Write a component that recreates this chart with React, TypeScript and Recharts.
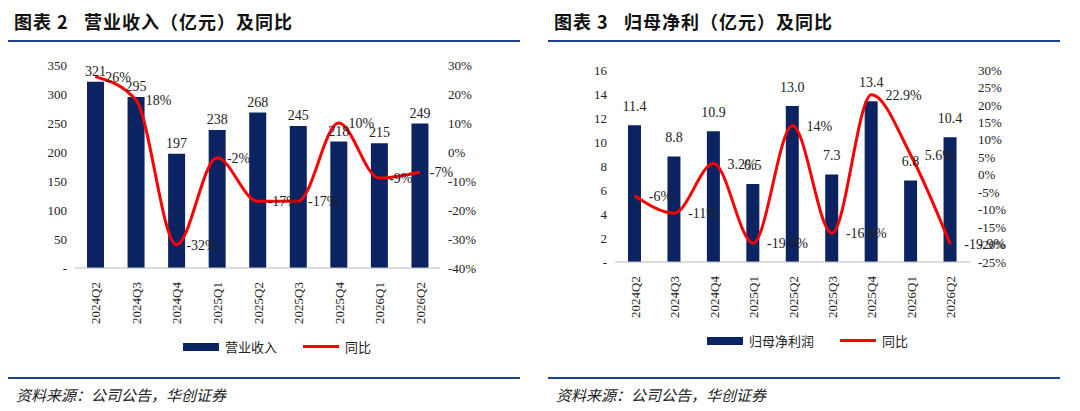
import React from "react";
import { ComposedChart, Bar, Line, XAxis, YAxis, LabelList } from "recharts";

const quarters = ["2024Q2", "2024Q3", "2024Q4", "2025Q1", "2025Q2", "2025Q3", "2025Q4", "2026Q1", "2026Q2"];
const revenue = [321, 295, 197, 238, 268, 245, 218, 215, 249];
const revenueYoy = [26, 18, -32, -2, -17, -17, 10, -9, -7];
const profit = [11.4, 8.8, 10.9, 6.5, 13.0, 7.3, 13.4, 6.8, 10.4];
const profitYoy = [-6, -11, 3.2, -19.6, 14.0, -16.8, 22.9, 5.6, -19.9];

const NAVY = "#0b2461";
const RED = "#ff0000";
const SERIF = "'Liberation Serif', 'Times New Roman', serif";
const CJK = "'Noto Sans CJK SC', sans-serif";

const revData = quarters.map((q, i) => ({ q, v: revenue[i], y: revenueYoy[i] }));
const profData = quarters.map((q, i) => ({ q, v: profit[i], y: profitYoy[i] }));

const tickStyle = { fontSize: 13, fontFamily: SERIF, fill: "#222" };

function XTick(props: any) {
  const { x, y, payload } = props;
  const yy = y + 6;
  return (
    <text x={x} y={yy} transform={`rotate(-90 ${x} ${yy})`} textAnchor="end" dy={5} style={tickStyle}>
      {payload.value}
    </text>
  );
}

function Title({ left, text }: { left: number; text: string }) {
  return (
    <div style={{ position: "absolute", left, top: 0, width: 512, height: 40, borderBottom: "2px solid #1f3f8f" }}>
      <div style={{ position: "absolute", left: 6, top: 8, fontFamily: CJK, fontWeight: 700, fontSize: 18, color: "#111", letterSpacing: 1, whiteSpace: "pre" }}>
        {text}
      </div>
    </div>
  );
}

function Footer({ left }: { left: number }) {
  return (
    <div style={{ position: "absolute", left, top: 377, width: 512, borderTop: "2px solid #1f3f8f" }}>
      <div style={{ position: "absolute", left: 8, top: 5, fontFamily: CJK, fontStyle: "italic", fontSize: 15, color: "#222" }}>
        资料来源：公司公告，华创证券
      </div>
    </div>
  );
}

function LegendBox({ left, top, name }: { left: number; top: number; name: string }) {
  return (
    <div style={{ position: "absolute", left, top, display: "flex", alignItems: "center", fontFamily: CJK, fontSize: 13, color: "#222" }}>
      <span style={{ width: 36, height: 8, background: NAVY, display: "inline-block", marginRight: 6 }} />
      <span>{name}</span>
      <span style={{ width: 36, height: 3, background: RED, display: "inline-block", marginLeft: 26, marginRight: 6 }} />
      <span>同比</span>
    </div>
  );
}

export default function App() {
  return (
    <div style={{ position: "absolute", left: 0, top: 0, width: 1080, height: 411, background: "#fff", overflow: "hidden" }}>
      <Title left={8} text="图表 2   营业收入（亿元）及同比" />
      <Title left={548} text="图表 3   归母净利（亿元）及同比" />

      <div style={{ position: "absolute", left: 0, top: 55 }}>
        <ComposedChart width={500} height={270} data={revData} margin={{ top: 10, right: 5, left: 15, bottom: 0 }} style={{ overflow: "visible" }}>
          <XAxis dataKey="q" tick={<XTick />} tickLine={false} axisLine={{ stroke: "#bbb" }} height={57} interval={0} />
          <YAxis yAxisId="l" domain={[0, 350]} ticks={[0, 50, 100, 150, 200, 250, 300, 350]} width={60} interval={0}
            tick={tickStyle} tickLine={false} axisLine={false} tickFormatter={(v: number) => (v === 0 ? "-" : String(v))} />
          <YAxis yAxisId="r" orientation="right" domain={[-40, 30]} ticks={[-40, -30, -20, -10, 0, 10, 20, 30]} width={55} interval={0}
            tick={{ ...tickStyle, textAnchor: "start" }} tickLine={false} axisLine={false} tickFormatter={(v: number) => `${v}%`} />
          <Bar yAxisId="l" dataKey="v" fill={NAVY} barSize={17} isAnimationActive={false}>
            <LabelList dataKey="v" position="top" offset={6} style={{ ...tickStyle, fontSize: 14 }} />
          </Bar>
          <Line yAxisId="r" dataKey="y" type="monotone" stroke={RED} strokeWidth={3} dot={false} isAnimationActive={false}>
            <LabelList dataKey="y" position="right" offset={10} formatter={(v: any) => `${v}%`} style={{ ...tickStyle, fontSize: 14 }} />
          </Line>
        </ComposedChart>
      </div>
      <LegendBox left={183} top={337} name="营业收入" />

      <div style={{ position: "absolute", left: 540, top: 60 }}>
        <ComposedChart width={490} height={259} data={profData} margin={{ top: 10, right: 5, left: 15, bottom: 0 }} style={{ overflow: "visible" }}>
          <XAxis dataKey="q" tick={<XTick />} tickLine={false} axisLine={{ stroke: "#bbb" }} height={57} interval={0} />
          <YAxis yAxisId="l" domain={[0, 16]} ticks={[0, 2, 4, 6, 8, 10, 12, 14, 16]} width={60} interval={0}
            tick={tickStyle} tickLine={false} axisLine={false} tickFormatter={(v: number) => (v === 0 ? "-" : String(v))} />
          <YAxis yAxisId="r" orientation="right" domain={[-25, 30]} ticks={[-25, -20, -15, -10, -5, 0, 5, 10, 15, 20, 25, 30]} width={55} interval={0}
            tick={{ ...tickStyle, textAnchor: "start" }} tickLine={false} axisLine={false} tickFormatter={(v: number) => `${v}%`} />
          <Bar yAxisId="l" dataKey="v" fill={NAVY} barSize={13} isAnimationActive={false}>
            <LabelList dataKey="v" position="top" offset={14} formatter={(v: any) => Number(v).toFixed(1)} style={{ ...tickStyle, fontSize: 14 }} />
          </Bar>
          <Line yAxisId="r" dataKey="y" type="monotone" stroke={RED} strokeWidth={3} dot={false} isAnimationActive={false}>
            <LabelList dataKey="y" position="right" offset={14} formatter={(v: any) => `${v}%`} style={{ ...tickStyle, fontSize: 14 }} />
          </Line>
        </ComposedChart>
      </div>
      <LegendBox left={707} top={331} name="归母净利润" />

      <Footer left={8} />
      <Footer left={548} />
    </div>
  );
}
